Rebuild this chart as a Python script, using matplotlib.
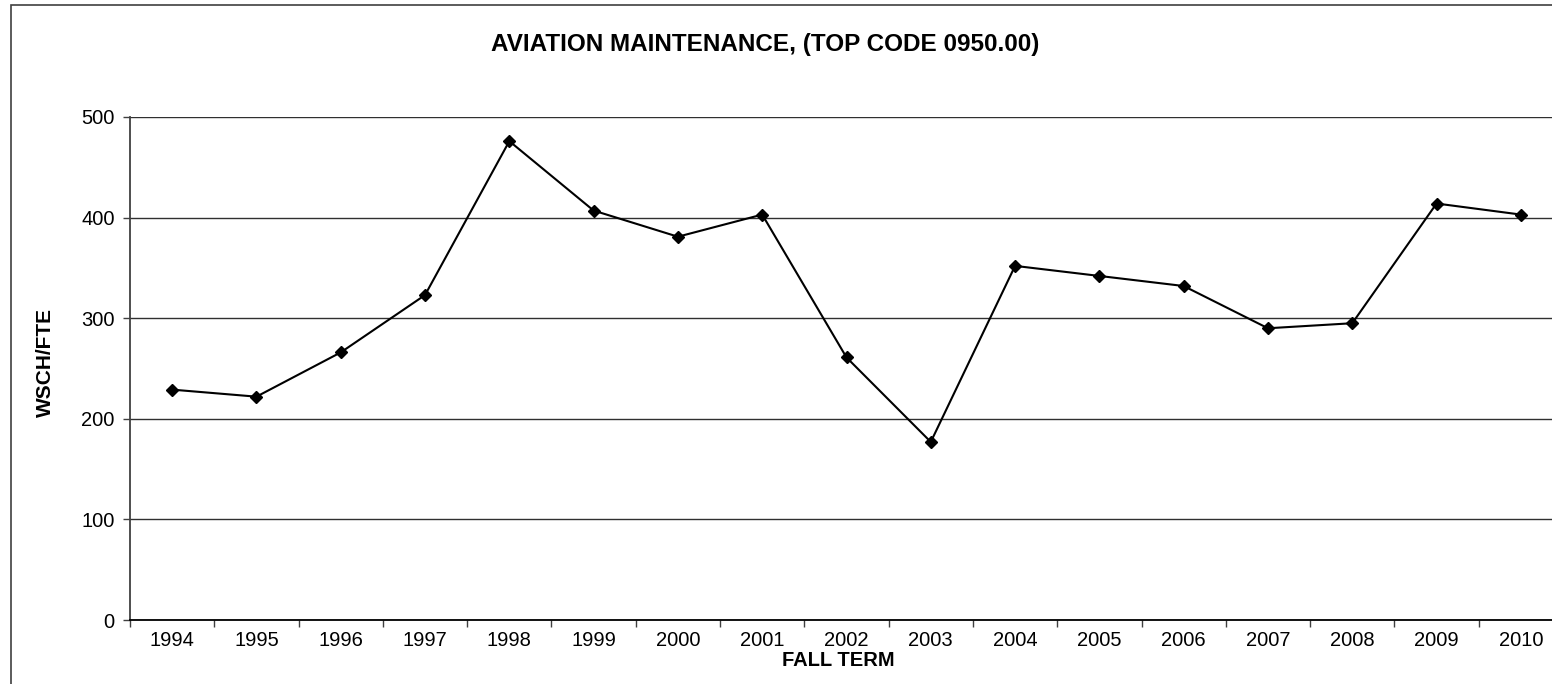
import matplotlib
matplotlib.use('Agg')
import matplotlib.pyplot as plt
from matplotlib.patches import Rectangle

# ── data ─────────────────────────────────────────────
years = ["1994", "1995", "1996", "1997", "1998", "1999", "2000", "2001", "2002",
         "2003", "2004", "2005", "2006", "2007", "2008", "2009", "2010"]
wsch_fte = [229, 222, 266, 323, 476, 407, 381, 403, 261,
            177, 352, 342, 332, 290, 295, 414, 403]
y_ticks = [0, 100, 200, 300, 400, 500]

plt.rcParams['font.family'] = ['Liberation Sans', 'DejaVu Sans']

W, H = 1552, 684
fig = plt.figure(figsize=(W / 100, H / 100), dpi=100)
fig.patch.set_facecolor("white")

# outer chart border (cropped on right / bottom in the original)
fig.patches.append(Rectangle((10.5 / W, -0.1), 1.2, 1 - 5.5 / H + 0.1,
                             transform=fig.transFigure, fill=False,
                             edgecolor="#404040", linewidth=1.2))

# axes extends slightly beyond the right edge, like the source
ax = fig.add_axes([130 / W, (H - 620) / H, 1433 / W, (620 - 117) / H])
x = list(range(len(years)))
ax.plot(x, wsch_fte, color="black", linewidth=1.5, marker="D",
        markersize=6.5, markerfacecolor="black", markeredgecolor="black", zorder=3)

ax.set_xlim(-0.5, len(years) - 0.5)
ax.set_ylim(0, 500)
ax.set_yticks(y_ticks)
ax.set_xticks(x)
ax.set_xticklabels(years)
ax.set_xticks([i + 0.5 for i in range(-1, len(years))], minor=True)
ax.tick_params(axis="x", which="major", length=0, labelsize=14.5, pad=8)
ax.tick_params(axis="x", which="minor", length=5, width=1, color="#404040")
ax.tick_params(axis="y", length=5, width=1, color="#404040", labelsize=14.5, pad=6)

ax.grid(axis="y", color="#303030", linewidth=1)
ax.set_axisbelow(True)
for s in ["top", "right"]:
    ax.spines[s].set_visible(False)
ax.spines["left"].set_color("#404040")
ax.spines["left"].set_linewidth(1.3)
ax.spines["bottom"].set_color("black")
ax.spines["bottom"].set_linewidth(1.3)

fig.text(765 / W, 1 - 45 / H, "AVIATION MAINTENANCE, (TOP CODE 0950.00)",
         ha="center", va="center", fontsize=17.5, fontweight="bold")
fig.text(45 / W, 1 - 362 / H, "WSCH/FTE", rotation=90, ha="center", va="center",
         fontsize=15, fontweight="bold")
fig.text(838 / W, 1 - 660 / H, "FALL TERM", ha="center", va="center",
         fontsize=14.5, fontweight="bold")

fig.savefig("out.png", dpi=100, facecolor="white")
